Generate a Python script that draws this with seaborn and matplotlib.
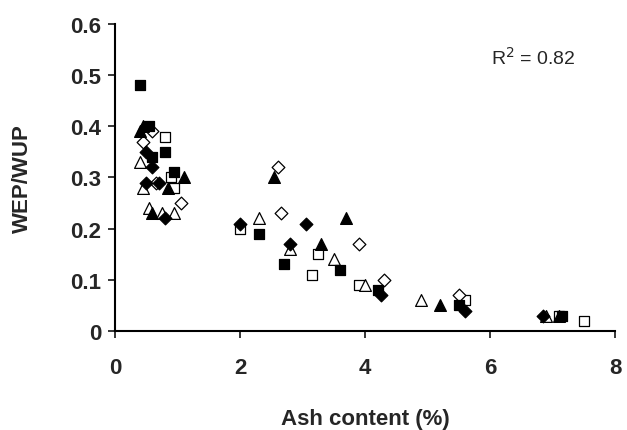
import pandas as pd
import seaborn as sns
import matplotlib.pyplot as plt

# data (ash %, WEP/WUP)
sq_fill_x = [0.4, 0.55, 0.6, 0.8, 0.95, 2.3, 2.7, 3.6, 4.2, 5.5, 7.15]
sq_fill_y = [0.48, 0.40, 0.34, 0.35, 0.31, 0.19, 0.13, 0.12, 0.08, 0.05, 0.03]
sq_open_x = [0.8, 0.9, 0.95, 2.0, 3.15, 3.25, 3.9, 5.6, 7.1, 7.5]
sq_open_y = [0.38, 0.30, 0.28, 0.20, 0.11, 0.15, 0.09, 0.06, 0.03, 0.02]
di_fill_x = [0.5, 0.5, 0.6, 0.7, 0.8, 2.0, 2.8, 3.05, 4.25, 5.6, 6.85]
di_fill_y = [0.29, 0.35, 0.32, 0.29, 0.22, 0.21, 0.17, 0.21, 0.07, 0.04, 0.03]
di_open_x = [0.45, 0.6, 0.65, 1.05, 2.6, 2.65, 3.9, 4.3, 5.5]
di_open_y = [0.37, 0.39, 0.29, 0.25, 0.32, 0.23, 0.17, 0.10, 0.07]
tr_fill_x = [0.4, 0.45, 0.6, 0.85, 1.1, 2.55, 3.3, 3.7, 5.2, 7.1]
tr_fill_y = [0.39, 0.40, 0.23, 0.28, 0.30, 0.30, 0.17, 0.22, 0.05, 0.03]
tr_open_x = [0.4, 0.45, 0.55, 0.75, 0.95, 2.3, 2.8, 3.5, 4.0, 4.9, 6.9]
tr_open_y = [0.33, 0.28, 0.24, 0.23, 0.23, 0.22, 0.16, 0.14, 0.09, 0.06, 0.03]

series = [
    (sq_open_x, sq_open_y, 's', 'white', 62),
    (di_open_x, di_open_y, 'D', 'white', 42),
    (tr_open_x, tr_open_y, '^', 'white', 72),
    (sq_fill_x, sq_fill_y, 's', 'black', 62),
    (di_fill_x, di_fill_y, 'D', 'black', 42),
    (tr_fill_x, tr_fill_y, '^', 'black', 72),
]

sns.set_style('ticks')
plt.rcParams['font.family'] = ['Liberation Sans', 'DejaVu Sans']

fig = plt.figure(figsize=(6.27, 4.31), dpi=100)
ax = fig.add_axes([0.1834, 0.2297, 0.7975, 0.7123])

for xs, ys, m, fc, s in series:
    df = pd.DataFrame({'ash': xs, 'ratio': ys})
    sns.scatterplot(data=df, x='ash', y='ratio', marker=m, s=s,
                    color=fc, edgecolor='black', linewidth=0.9, ax=ax, zorder=3)

ax.set_xlim(0, 8)
ax.set_ylim(0, 0.6)
ax.set_xticks([0, 2, 4, 6, 8])
ax.set_xticklabels(['0', '2', '4', '6', '8'])
ax.set_yticks([0, 0.1, 0.2, 0.3, 0.4, 0.5, 0.6])
ax.set_yticklabels(['0', '0.1', '0.2', '0.3', '0.4', '0.5', '0.6'])
for lab in ax.get_xticklabels() + ax.get_yticklabels():
    lab.set_fontweight('bold')
    lab.set_fontsize(16)
ax.tick_params(axis='x', direction='out', length=5, width=1.3, pad=14)
ax.tick_params(axis='y', direction='out', length=5, width=1.3, pad=5)
sns.despine(ax=ax)
for sp in ['left', 'bottom']:
    ax.spines[sp].set_linewidth(1.5)
    ax.spines[sp].set_color('black')

ax.set_xlabel('Ash content (%)', fontsize=16, fontweight='bold')
ax.set_ylabel('WEP/WUP', fontsize=16, fontweight='bold')
ax.xaxis.set_label_coords(0.5, -0.25)
ax.yaxis.set_label_coords(-0.165, 0.5)
ax.text(6.7, 0.535, r'R$^2$ = 0.82', fontsize=14, ha='center', va='center')

plt.savefig('out.png', dpi=100)
plt.close()
